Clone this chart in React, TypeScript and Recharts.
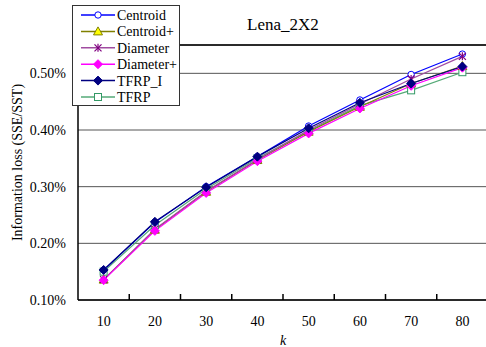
import React from 'react';
import { ComposedChart, Line, XAxis, YAxis, CartesianGrid, ReferenceLine, ReferenceDot, Legend, Label } from 'recharts';

const ks = [10, 20, 30, 40, 50, 60, 70, 80];
const boundaryTicks = [15, 25, 35, 45, 55, 65, 75];
const yTicks = [0.1, 0.2, 0.3, 0.4, 0.5];

const centroid = [0.153, 0.237, 0.300, 0.353, 0.407, 0.453, 0.498, 0.534];
const centroidPlus = [0.136, 0.224, 0.291, 0.347, 0.397, 0.441, 0.482, 0.513];
const diameter = [0.136, 0.225, 0.292, 0.348, 0.400, 0.446, 0.490, 0.530];
const diameterPlus = [0.135, 0.222, 0.289, 0.345, 0.394, 0.438, 0.478, 0.510];
const tfrpI = [0.153, 0.238, 0.299, 0.353, 0.403, 0.448, 0.482, 0.512];
const tfrp = [0.150, 0.232, 0.296, 0.350, 0.398, 0.443, 0.470, 0.502];

const data = ks.map((k, i) => ({
  k,
  Centroid: centroid[i],
  'Centroid+': centroidPlus[i],
  Diameter: diameter[i],
  'Diameter+': diameterPlus[i],
  TFRP_I: tfrpI[i],
  TFRP: tfrp[i],
}));

type MarkerKind = 'circle' | 'triangle' | 'star' | 'diamond' | 'square';

const series: { key: string; line: string; marker: MarkerKind; mStroke: string; mFill: string }[] = [
  { key: 'Centroid', line: '#0000FF', marker: 'circle', mStroke: '#0000FF', mFill: '#FFFFFF' },
  { key: 'Centroid+', line: '#808000', marker: 'triangle', mStroke: '#808000', mFill: '#FFFF00' },
  { key: 'Diameter', line: '#A04CA0', marker: 'star', mStroke: '#800080', mFill: 'none' },
  { key: 'Diameter+', line: '#FF00FF', marker: 'diamond', mStroke: '#FF00FF', mFill: '#FF00FF' },
  { key: 'TFRP_I', line: '#000080', marker: 'diamond', mStroke: '#000080', mFill: '#000080' },
  { key: 'TFRP', line: '#55AA77', marker: 'square', mStroke: '#339966', mFill: '#FFFFFF' },
];

const drawOrder = ['TFRP', 'Centroid', 'Centroid+', 'Diameter', 'Diameter+', 'TFRP_I'];

function Marker({ kind, cx, cy, stroke, fill }: { kind: MarkerKind; cx: number; cy: number; stroke: string; fill: string }) {
  if (cx == null || cy == null) return null;
  switch (kind) {
    case 'circle':
      return <circle cx={cx} cy={cy} r={3.2} stroke={stroke} fill={fill} strokeWidth={1} />;
    case 'triangle':
      return <polygon points={`${cx},${cy - 4.5} ${cx + 4.5},${cy + 3.5} ${cx - 4.5},${cy + 3.5}`} stroke={stroke} fill={fill} strokeWidth={1} />;
    case 'star':
      return (
        <g stroke={stroke} strokeWidth={1.2}>
          <line x1={cx - 3.5} y1={cy - 3.5} x2={cx + 3.5} y2={cy + 3.5} />
          <line x1={cx - 3.5} y1={cy + 3.5} x2={cx + 3.5} y2={cy - 3.5} />
          <line x1={cx} y1={cy - 4} x2={cx} y2={cy + 4} />
        </g>
      );
    case 'diamond':
      return <polygon points={`${cx},${cy - 4.5} ${cx + 4.5},${cy} ${cx},${cy + 4.5} ${cx - 4.5},${cy}`} stroke={stroke} fill={fill} strokeWidth={1} />;
    case 'square':
      return <rect x={cx - 3.5} y={cy - 3.5} width={7} height={7} stroke={stroke} fill={fill} strokeWidth={1} />;
  }
  return null;
}

const font = '"Liberation Serif", "Times New Roman", serif';
const textStyle = { fontFamily: font };

function LegendBox() {
  const rowH = 16.4;
  return (
    <svg width={108} height={101} style={{ display: 'block' }}>
      <rect x={0.5} y={0.5} width={107} height={100} fill="#FFFFFF" stroke="#333" strokeWidth={1} />
      {series.map((s, i) => {
        const y = 10 + i * rowH;
        return (
          <g key={s.key}>
            <line x1={9} x2={43} y1={y} y2={y} stroke={s.line} strokeWidth={1.5} />
            <Marker kind={s.marker} cx={26} cy={y} stroke={s.mStroke} fill={s.mFill} />
            <text x={45} y={y + 5} fontFamily={font} style={{ ...textStyle, fontSize: 14 }} fill="#000">{s.key}</text>
          </g>
        );
      })}
    </svg>
  );
}

function XTick(props: any) {
  const { x, y, payload } = props;
  return (
    <text x={x} y={y + 10} textAnchor="middle" fontFamily={font} style={{ ...textStyle, fontSize: 14 }} fill="#000">
      {payload.value}
    </text>
  );
}

function YTick(props: any) {
  const { x, y, payload } = props;
  return (
    <text x={x} y={y + 5} textAnchor="end" fontFamily={font} style={{ ...textStyle, fontSize: 14 }} fill="#000">
      {`${Number(payload.value).toFixed(2)}%`}
    </text>
  );
}

function TickMark(props: any) {
  const { cx, cy } = props;
  if (cx == null || cy == null) return <g />;
  return <line x1={cx} x2={cx} y1={cy} y2={cy - 6} stroke="#000" strokeWidth={1.5} />;
}

export default function App() {
  return (
    <div style={{ position: 'absolute', left: 0, top: 0, width: 486, height: 347, background: '#fff', fontFamily: font }}>
      <ComposedChart width={486} height={347} data={data} margin={{ top: 45, right: -2, left: 0, bottom: 0 }} style={{ fontFamily: font }}>
        <CartesianGrid horizontal vertical={false} stroke="#555" strokeWidth={1} />
        <XAxis
          type="number"
          dataKey="k"
          domain={[5, 85]}
          ticks={ks}
          interval={0}
          tickLine={false}
          tickSize={0}
          tickMargin={16}
          height={47}
          axisLine={{ stroke: '#000', strokeWidth: 1.5 }}
          tick={<XTick />}
        >
          <Label value="k" position="insideBottom" offset={2} style={{ fontFamily: font, fontSize: 14, fontStyle: 'italic', fill: '#000' }} />
        </XAxis>
        <YAxis
          type="number"
          domain={[0.1, 0.55]}
          ticks={yTicks}
          width={78}
          tickLine={false}
          tickSize={0}
          tickMargin={12}
          axisLine={{ stroke: '#000', strokeWidth: 1.5 }}
          tick={<YTick />}
        >
          <Label
            content={(props: any) => {
              const vb = props.viewBox || { x: 0, y: 45, width: 78, height: 255 };
              const cx = 17;
              const cy = vb.y + vb.height / 2 - 10;
              return (
                <text x={cx} y={cy} transform={`rotate(-90 ${cx} ${cy})`} textAnchor="middle" dominantBaseline="central" fontFamily={font} style={{ ...textStyle, fontSize: 14 }} fill="#000">
                  Information loss (SSE/SST)
                </text>
              );
            }}
          />
        </YAxis>
        <ReferenceLine y={0.55} stroke="#000" strokeWidth={1.5} />
        {boundaryTicks.map((b) => (
          <ReferenceDot key={`tm-${b}`} x={b} y={yTicks[0]} ifOverflow="visible" shape={(p: any) => <TickMark {...p} />} />
        ))}
        {drawOrder.map((key) => {
          const s = series.find((x) => x.key === key)!;
          return (
            <Line
              key={key}
              type="linear"
              dataKey={key}
              name={key}
              stroke={s.line}
              strokeWidth={1.2}
              isAnimationActive={false}
              dot={(p: any) => <Marker key={`${key}-${p.index}`} kind={s.marker} cx={p.cx} cy={p.cy} stroke={s.mStroke} fill={s.mFill} />}
              activeDot={false}
            />
          );
        })}
        <text x={283} y={30} textAnchor="middle" fontFamily={font} style={{ ...textStyle, fontSize: 17 }} fill="#000">Lena_2X2</text>
        <Legend
          layout="vertical"
          align="center"
          verticalAlign="middle"
          wrapperStyle={{ left: 72, top: 5, width: 108, height: 101 }}
          content={() => <LegendBox />}
        />
      </ComposedChart>
    </div>
  );
}
